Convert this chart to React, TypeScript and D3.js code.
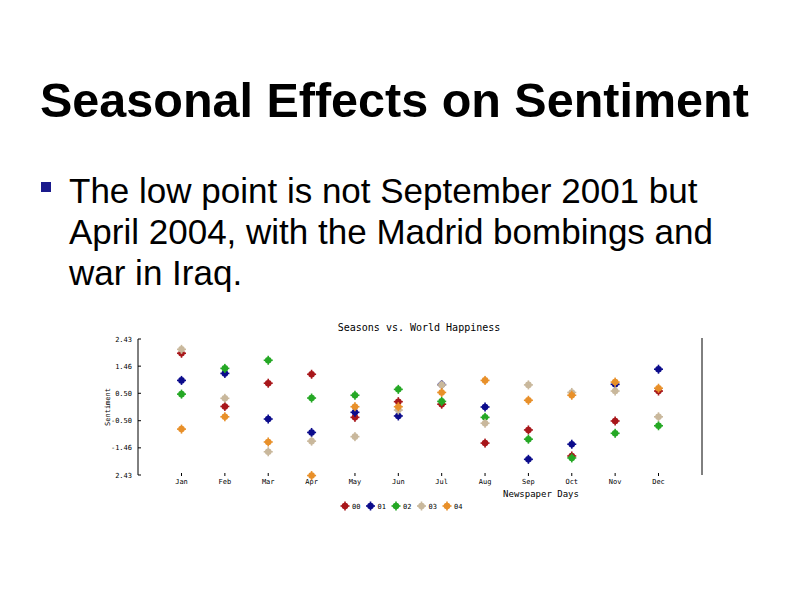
import React from 'react';
import * as d3 from 'd3';

// chart values
const months = ['Jan', 'Feb', 'Mar', 'Apr', 'May', 'Jun', 'Jul', 'Aug', 'Sep', 'Oct', 'Nov', 'Dec'];
const seriesNames = ['00', '01', '02', '03', '04'];
const seriesColors = ['#a8171b', '#0c0c8c', '#25a825', '#c9b89c', '#e8902a'];

const y00 = [1.92, 0.02, 0.85, 1.17, -0.37, 0.19, 0.10, -1.29, -0.82, -1.75, -0.50, 0.57];
const y01 = [0.95, 1.20, -0.43, -0.91, -0.19, -0.32, 0.80, 0.00, -1.87, -1.33, 0.81, 1.35];
const y02 = [0.46, 1.38, 1.67, 0.32, 0.42, 0.63, 0.20, -0.37, -1.15, -1.82, -0.94, -0.67];
const y03 = [2.06, 0.31, -1.60, -1.22, -1.06, -0.11, 0.79, -0.58, 0.79, 0.52, 0.57, -0.35];
const y04 = [-0.79, -0.35, -1.25, -2.45, 0.01, 0.01, 0.52, 0.95, 0.24, 0.42, 0.89, 0.67];
const seriesValues = [y00, y01, y02, y03, y04];

const yTicks = [2.43, 1.46, 0.49, -0.49, -1.46, -2.43];
const yTickLabels = ['2.43', '1.46', '0.50', '-0.50', '-1.46', '2.43'];

const bulletLines = [
  'The low point is not September 2001 but',
  'April 2004, with the Madrid bombings and',
  'war in Iraq.',
];

const mono = 'DejaVu Sans Mono, monospace';

function Marker({ x, y, color }: { x: number; y: number; color: string }) {
  return (
    <g transform={`translate(${x},${y})`} fill={color}>
      <circle r={3.3} />
      <rect x={-4.5} y={-0.8} width={9} height={1.6} />
      <rect x={-0.8} y={-4.5} width={1.6} height={9} />
    </g>
  );
}

export default function App() {
  const x = d3.scalePoint<string>().domain(months).range([181.5, 658.5]);
  const y = d3.scaleLinear().domain([-2.43, 2.43]).range([475, 339]);
  const axisX = 138;

  return (
    <svg
      width={794}
      height={595}
      style={{ position: 'absolute', left: 0, top: 0, background: '#fff' }}
      fontFamily="Liberation Sans, Arial, sans-serif"
    >
      <rect width={794} height={595} fill="#fff" />
      <text x={40} y={117} fontSize={48.5} fontWeight="bold" fill="#000">
        Seasonal Effects on Sentiment
      </text>
      <rect x={41} y={182} width={10} height={10} fill="#1a1a8c" />
      {bulletLines.map((line, i) => (
        <text key={i} x={69} y={203 + i * 41} fontSize={35} fill="#000">
          {line}
        </text>
      ))}

      {/* plot */}
      <text x={419} y={331} fontSize={10} fontFamily={mono} textAnchor="middle" fill="#000">
        Seasons vs. World Happiness
      </text>
      <line x1={axisX} x2={axisX} y1={y(2.43)} y2={y(-2.43)} stroke="#000" />
      <line x1={702} x2={702} y1={338} y2={475} stroke="#000" />
      {yTicks.map((t, i) => (
        <g key={t}>
          <line x1={axisX} x2={axisX + 3} y1={y(t)} y2={y(t)} stroke="#000" />
          <text
            x={axisX - 6}
            y={y(t) + 2.5}
            fontSize={7}
            fontFamily={mono}
            textAnchor="end"
            fill="#000"
          >
            {yTickLabels[i]}
          </text>
        </g>
      ))}
      <text
        transform={`translate(110,${y(0)}) rotate(-90)`}
        fontSize={7}
        fontFamily={mono}
        textAnchor="middle"
        fill="#000"
      >
        Sentiment
      </text>
      {months.map((m) => (
        <g key={m}>
          <line x1={x(m)} x2={x(m)} y1={473} y2={476} stroke="#000" />
          <text x={x(m)} y={484} fontSize={7} fontFamily={mono} textAnchor="middle" fill="#000">
            {m}
          </text>
        </g>
      ))}
      <text x={541} y={497} fontSize={9} fontFamily={mono} textAnchor="middle" fill="#000">
        Newspaper Days
      </text>

      {seriesValues.map((vals, s) => (
        <g key={seriesNames[s]}>
          {vals.map((v, i) => (
            <Marker key={i} x={x(months[i]) as number} y={y(v)} color={seriesColors[s]} />
          ))}
        </g>
      ))}

      {/* legend */}
      {seriesNames.map((name, i) => (
        <g key={name}>
          <Marker x={345 + i * 25.5} y={506} color={seriesColors[i]} />
          <text x={352 + i * 25.5} y={508.5} fontSize={7} fontFamily={mono} fill="#000">
            {name}
          </text>
        </g>
      ))}
    </svg>
  );
}
